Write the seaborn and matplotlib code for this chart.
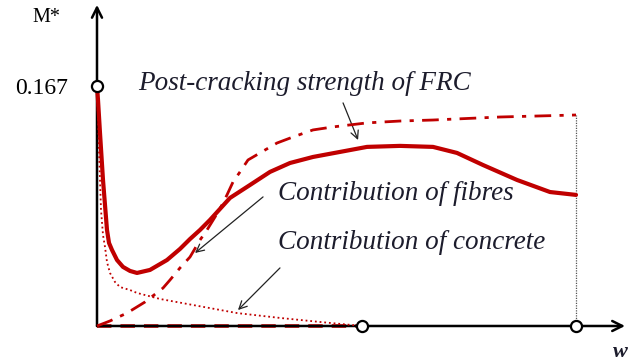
import matplotlib
matplotlib.use("Agg")
import matplotlib.pyplot as plt
import seaborn as sns

# crack opening w (mm) and normalised moment M*
frc_w = [0, 0.0063, 0.0188, 0.0376, 0.0501, 0.0626, 0.0752, 0.0939, 0.1253, 0.1628,
         0.2067, 0.2505, 0.3319, 0.4384, 0.5198, 0.5825, 0.6451, 0.7077, 0.8330,
         0.9582, 1.0835, 1.2088, 1.3528, 1.5219, 1.6910, 1.8977, 2.1044, 2.2547,
         2.4175, 2.6305, 2.8372, 3.0]
frc_m = [0.1670, 0.1573, 0.1343, 0.1016, 0.0842, 0.0668, 0.0578, 0.0529, 0.0459,
         0.0411, 0.0383, 0.0369, 0.0390, 0.0459, 0.0536, 0.0605, 0.0668, 0.0738,
         0.0891, 0.0981, 0.1072, 0.1134, 0.1176, 0.1211, 0.1246, 0.1253, 0.1246,
         0.1204, 0.1120, 0.1016, 0.0932, 0.0912]

fibres_w = [0, 0.0814, 0.1879, 0.3006, 0.4134, 0.4572, 0.5198, 0.5825, 0.6451, 0.6889,
            0.7390, 0.7829, 0.8142, 0.8518, 0.8956, 0.9457, 1.0209, 1.1273, 1.2275,
            1.3528, 1.4781, 1.6910, 1.8977, 2.1044, 2.5240, 3.0]
fibres_m = [0, 0.0035, 0.0090, 0.0167, 0.0264, 0.0320, 0.0404, 0.0480, 0.0598, 0.0668,
            0.0758, 0.0842, 0.0912, 0.1002, 0.1072, 0.1155, 0.1204, 0.1273, 0.1315,
            0.1364, 0.1385, 0.1413, 0.1426, 0.1433, 0.1454, 0.1468]

concrete_w = [0, 0.0125, 0.0251, 0.0376, 0.0501, 0.0626, 0.0814, 0.1127, 0.1440,
              0.2067, 0.2505, 0.3946, 0.6013, 0.8769, 1.1461, 1.3967, 1.66]
concrete_m = [0.1670, 0.1225, 0.0807, 0.0633, 0.0550, 0.0445, 0.0369, 0.0306, 0.0271,
              0.0250, 0.0230, 0.0188, 0.0146, 0.0090, 0.0056, 0.0028, 0]

residual_w = [0, 1.66]
residual_m = [0, 0]

m_cr = 0.167          # first-cracking moment
w_c = 1.66            # concrete contribution vanishes
w_max = 3.00          # end of the curves

sns.set_theme(style="white")
plt.rcParams["font.family"] = ["Liberation Serif", "DejaVu Serif"]

red = "#C00000"
ink = "#1c1c2c"

fig = plt.figure(figsize=(6.35, 3.63), dpi=100)
ax = fig.add_axes([0, 0, 1, 1])
ax.set_xlim(-0.6075, 3.3695)
ax.set_ylim(-0.02575, 0.2268)
ax.axis("off")

# residual (zero) line along the w axis
sns.lineplot(x=residual_w, y=residual_m, ax=ax, color=red, lw=2.6,
             linestyle=(0, (4, 2.5)), zorder=2, sort=False)

# axes with arrows
ax.annotate("", xy=(3.307, 0), xytext=(0, 0),
            arrowprops=dict(arrowstyle="->", color="black", lw=1.8,
                            mutation_scale=18, shrinkA=0, shrinkB=0), zorder=3)
ax.annotate("", xy=(0, 0.2234), xytext=(0, 0),
            arrowprops=dict(arrowstyle="->", color="black", lw=1.8,
                            mutation_scale=18, shrinkA=0, shrinkB=0), zorder=3)

# vertical guide at the end of the curves
ax.plot([w_max, w_max], [0, fibres_m[-1]], color="#555555", lw=0.9,
        linestyle=(0, (1, 1)), zorder=2)

# curves
sns.lineplot(x=concrete_w, y=concrete_m, ax=ax, color=red, lw=1.3,
             linestyle=(0, (1, 1.6)), zorder=4, sort=False)
sns.lineplot(x=fibres_w, y=fibres_m, ax=ax, color=red, lw=2.0,
             linestyle=(0, (6, 3, 1.5, 3)), zorder=4, sort=False)
sns.lineplot(x=frc_w, y=frc_m, ax=ax, color=red, lw=3.0, zorder=5, sort=False)

# open markers
ax.plot([0, w_c, w_max], [m_cr, 0, 0], "o", ms=8, mfc="white", mec="black",
        mew=1.6, zorder=6, linestyle="none")

# labels
ax.text(-0.2317, 0.2143, "M*", fontsize=14.5, ha="right", va="center", color="black")
ax.text(-0.1816, 0.1649, "0.167", fontsize=17, ha="right", va="center", color="black")
ax.text(3.276, -0.0181, "w", fontsize=16, ha="center", va="center", color=ink,
        fontstyle="italic", fontweight="bold")

ax.text(0.257, 0.1684, "Post-cracking strength of FRC", fontsize=19.5,
        fontstyle="italic", ha="left", va="center", color=ink)
ax.text(1.134, 0.0925, "Contribution of fibres", fontsize=19.5,
        fontstyle="italic", ha="left", va="center", color=ink)
ax.text(1.134, 0.0578, "Contribution of concrete", fontsize=19.5,
        fontstyle="italic", ha="left", va="center", color=ink)

arrow = dict(arrowstyle="->", color="#222222", lw=0.9, mutation_scale=14,
             shrinkA=0, shrinkB=0)
ax.annotate("", xy=(1.635, 0.1294), xytext=(1.541, 0.1552), arrowprops=arrow)
ax.annotate("", xy=(0.614, 0.0508), xytext=(1.040, 0.0898), arrowprops=arrow)
ax.annotate("", xy=(0.883, 0.0111), xytext=(1.146, 0.0404), arrowprops=arrow)

fig.savefig("out.png", dpi=100)
